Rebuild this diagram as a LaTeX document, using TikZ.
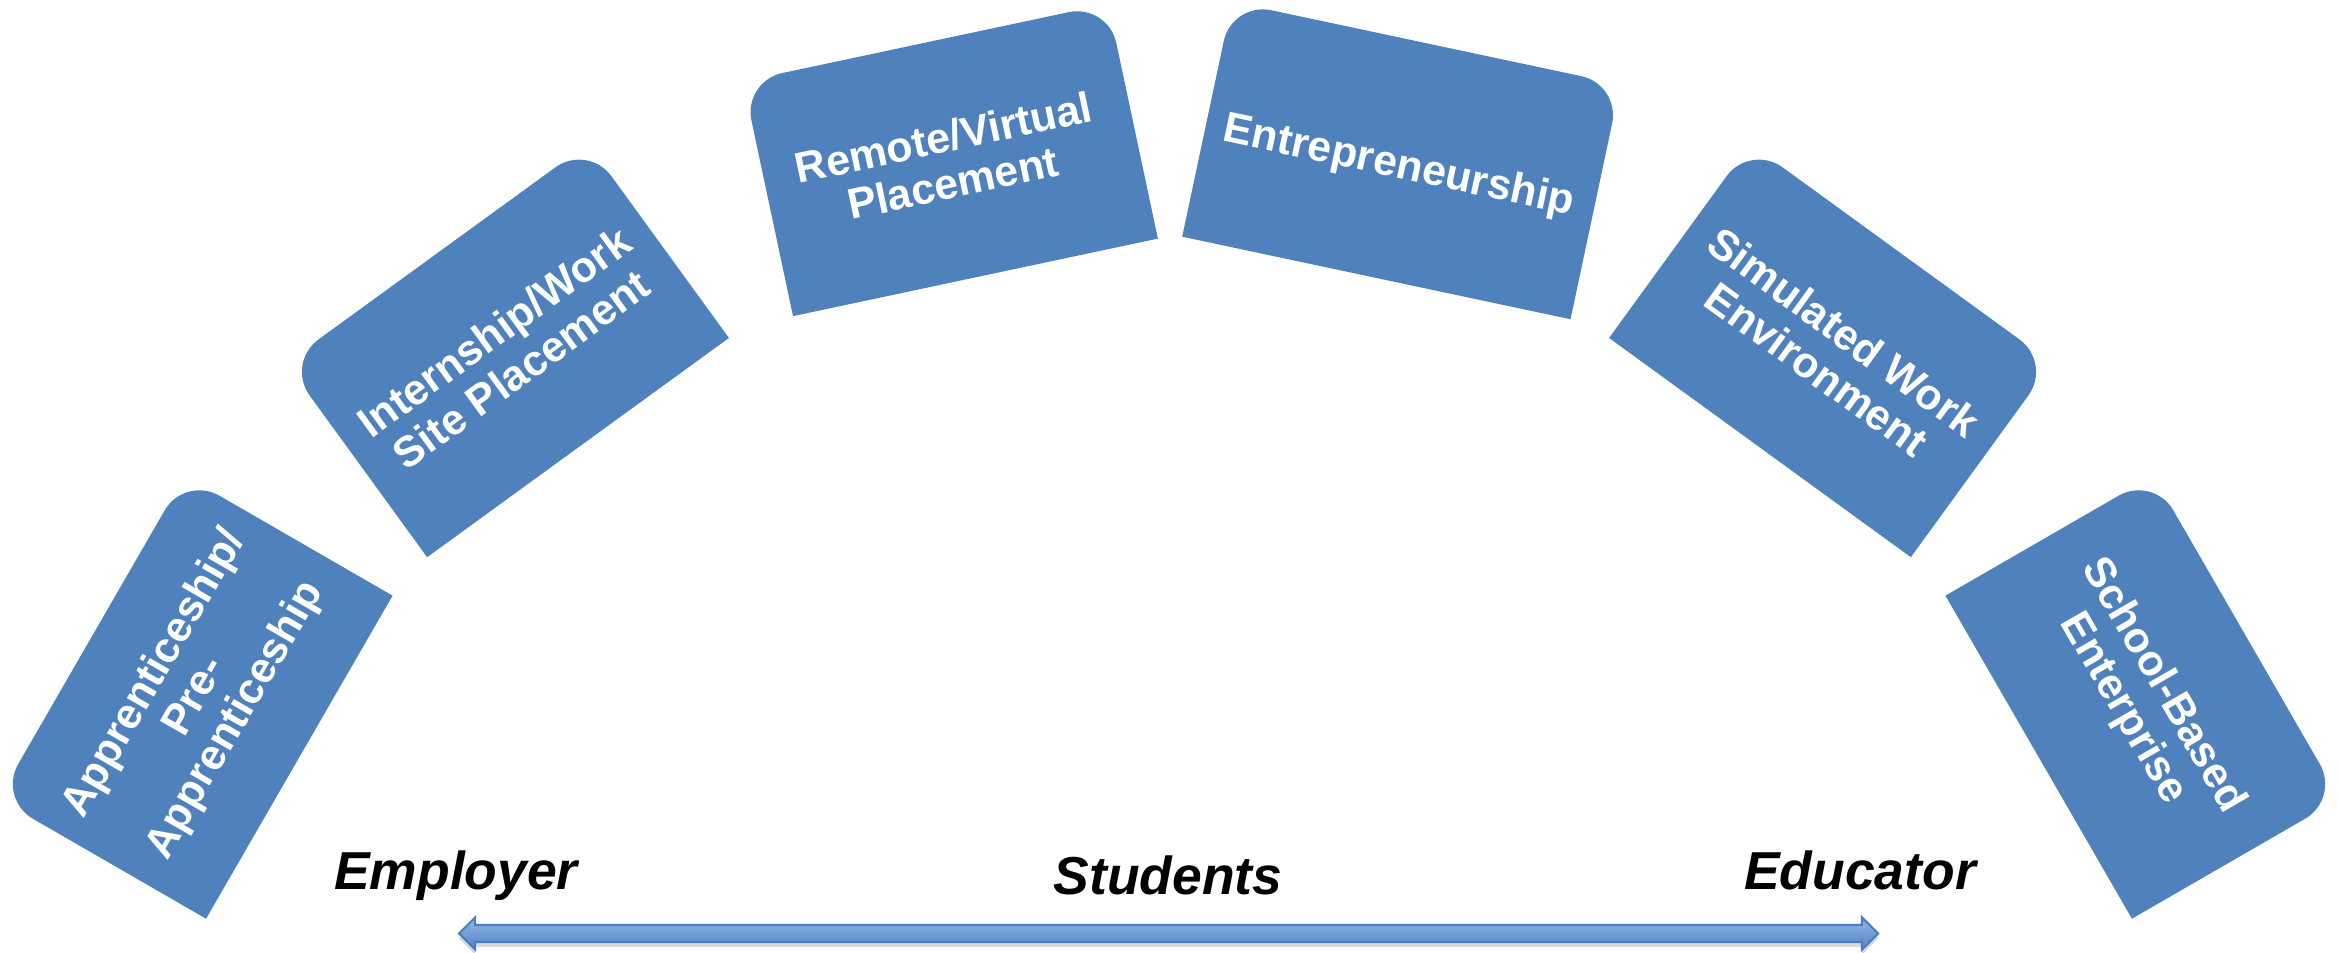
\documentclass[tikz,border=0pt]{standalone}
\usepackage{fontspec}
\setsansfont{Liberation Sans}
\usepackage{tikz}
\usetikzlibrary{shadows}

\definecolor{boxblue}{RGB}{79,129,189}
\definecolor{arrowtop}{RGB}{146,185,236}
\definecolor{arrowbottom}{RGB}{84,130,197}
\definecolor{arrowline}{RGB}{74,126,187}

% blue card, outer corners rounded; #1 = half width
\newcommand\stagebox[3][1.865]{\fill[boxblue, shift={#2}, rotate=#3] (-#1,-1.2) -- (#1,-1.2) -- (#1,0.8) arc[start angle=0, end angle=90, radius=0.4] -- (-#1+0.4,1.2) arc[start angle=90, end angle=180, radius=0.4] -- cycle;}

\begin{document}
\begin{tikzpicture}
                \tikzstyle{stage} = [text=white, align=center, inner sep=0pt, font=\sffamily\bfseries\fontsize{12.2}{13.2}\selectfont]
                \tikzstyle{side} = [anchor=base, inner sep=0pt, font=\sffamily\bfseries\itshape\fontsize{15.2}{18}\selectfont]
                \useasboundingbox (0,0) rectangle (23.38,9.53);

                \stagebox{(1.954,2.558)}{60}
                \stagebox{(5.075,6.025)}{36}
                \stagebox{(9.505,7.93)}{12}
                \stagebox[1.985]{(14.013,7.924)}{-12}
                \stagebox{(18.305,6.025)}{-36}
                \stagebox{(21.426,2.558)}{-60}

                \node [stage, rotate=60] (apprentice) at (1.954,2.558) {Apprenticeship/\\Pre-\\Apprenticeship};
                \node [stage, rotate=36] (internship) at (5.075,6.025) {Internship/Work\\Site Placement};
                \node [stage, rotate=12] (remote) at (9.48,7.93) {Remote/Virtual\\Placement};
                \node [stage, rotate=-12] (entrepreneur) at (13.99,7.86) {Entrepreneurship};
                \node [stage, rotate=-36] (simulated) at (18.305,6.025) {Simulated Work\\Environment};
                \node [stage, rotate=-60] (school) at (21.426,2.558) {School-Based\\Enterprise};

                \node [side] (employer) at (4.56,0.63) {Employer};
                \node [side] (students) at (11.68,0.58) {Students};
                \node [side] (educator) at (18.60,0.63) {Educator};

                \coordinate (west tip) at (4.59,0.195);
                \coordinate (east tip) at (18.78,0.195);
                \draw [arrowline, line width=0.6pt, top color=arrowtop, bottom color=arrowbottom, drop shadow={shadow xshift=0pt, shadow yshift=-0.05cm, opacity=0.3}] (west tip) -- ++(0.16,0.16) -- ++(0,-0.075) -- ([shift={(-0.16,0.085)}]east tip) -- ++(0,0.075) -- (east tip) -- ++(-0.16,-0.16) -- ++(0,0.075) -- ([shift={(0.16,-0.085)}]west tip) -- ++(0,-0.075) -- cycle;
\end{tikzpicture}
\end{document}
